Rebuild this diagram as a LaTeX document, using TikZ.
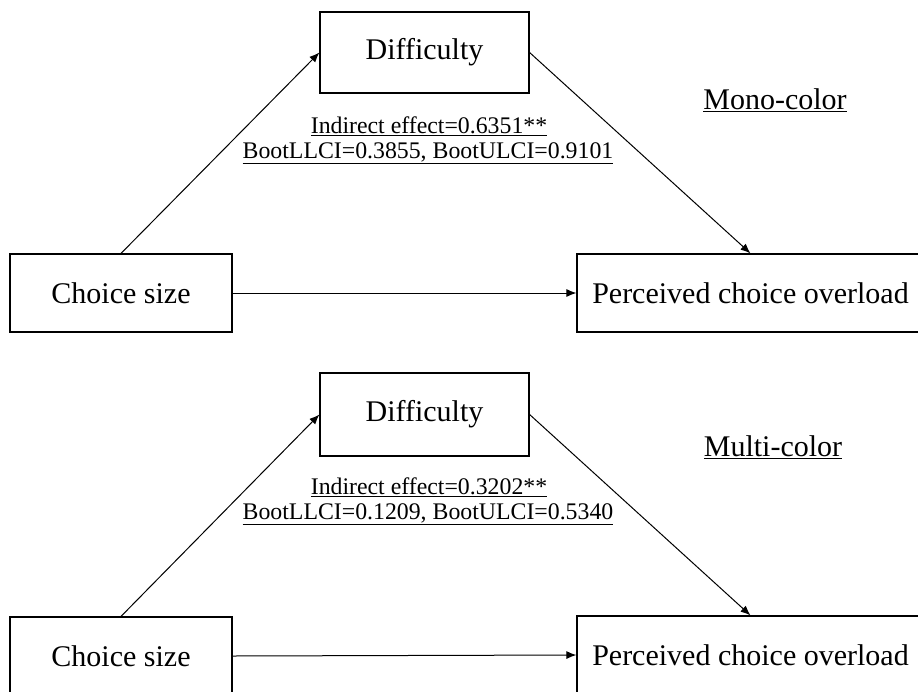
\documentclass[tikz,border=0pt]{standalone}
\usepackage{fontspec}
\setmainfont{Liberation Serif}
\usetikzlibrary{arrows.meta}
\begin{document}
\begin{tikzpicture}[x=1pt,y=-1pt,
  box/.style={draw=black,line width=1.2pt,inner sep=0pt,font=\fontsize{30}{34}\selectfont},
  conn/.style={draw=black,line width=1pt,-{Latex[length=10pt,width=8pt]}},
  lbl/.style={font=\fontsize{30}{34}\selectfont,inner sep=0pt},
  eff/.style={font=\fontsize{23.8}{27}\selectfont,inner sep=0pt,align=center}]
\useasboundingbox (0,0) rectangle (918,691);
% top panel
\node[box,minimum width=209pt,minimum height=81pt] (dif1) at (424.5,52.5) {Difficulty};
\node[box,minimum width=222pt,minimum height=78pt] (cs1) at (121,293) {Choice size};
\node[box,minimum width=347pt,minimum height=78pt] (pco1) at (750.5,293) {Perceived choice overload};
\node[lbl] (mc1) at (775,100) {\underline{Mono-color}};
\node[eff] (ie1) at (429,126) {\underline{Indirect effect=0.6351**}};
\node[eff] (ci1) at (428,153) {\underline{BootLLCI=0.3855, BootULCI=0.9101}};
\draw[conn] (cs1.north) -- (dif1.west);
\draw[conn] (dif1.east) -- (pco1.north);
\draw[conn] (cs1.east) -- (pco1.west);
% bottom panel
\node[box,minimum width=209pt,minimum height=83pt] (dif2) at (424.5,414.5) {Difficulty};
\node[box,minimum width=222pt,minimum height=78pt] (cs2) at (121,656) {Choice size};
\node[box,minimum width=347pt,minimum height=78pt] (pco2) at (750.5,655) {Perceived choice overload};
\node[lbl] (mc2) at (773,447) {\underline{Multi-color}};
\node[eff] (ie2) at (429,487) {\underline{Indirect effect=0.3202**}};
\node[eff] (ci2) at (428,514) {\underline{BootLLCI=0.1209, BootULCI=0.5340}};
\draw[conn] (cs2.north) -- (dif2.west);
\draw[conn] (dif2.east) -- (pco2.north);
\draw[conn] (cs2.east) -- (pco2.west);
\end{tikzpicture}
\end{document}
